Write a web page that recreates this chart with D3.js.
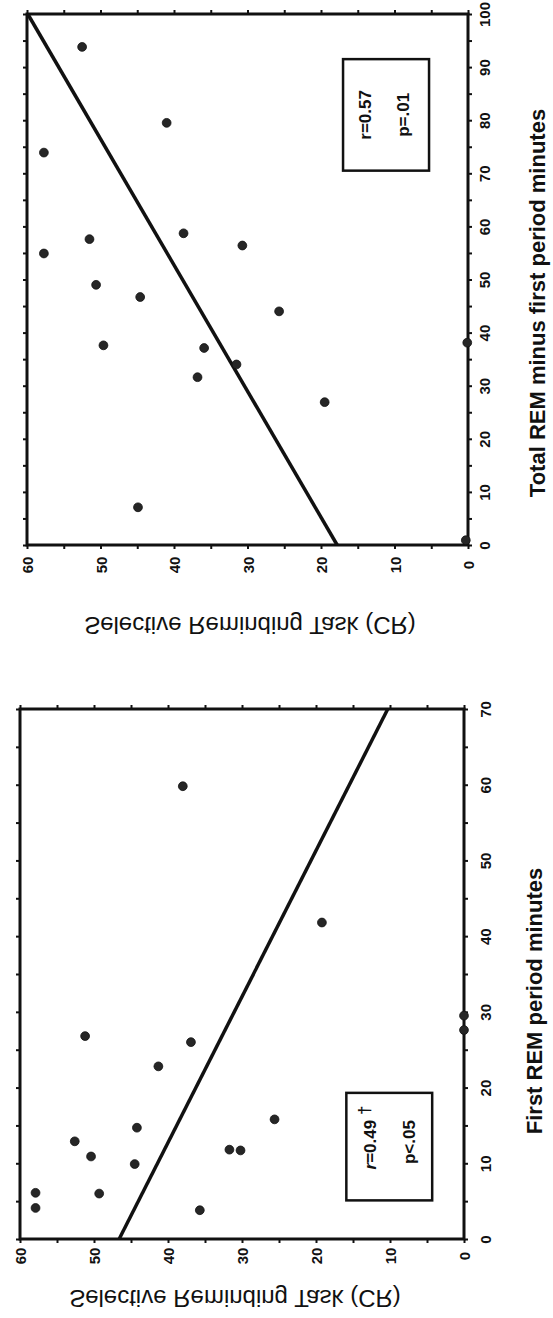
<!DOCTYPE html>
<html><head><meta charset="utf-8">
<script src="https://cdn.jsdelivr.net/npm/d3@7/dist/d3.min.js"></script>
<style>
body{margin:0;background:#fff;}
svg{display:block;font-family:"Liberation Sans",Arial,sans-serif;}
</style></head>
<body>
<script>
// ---- Data: top panel (Total REM minus first period minutes vs CR)
const topMinutes = [93.8,79.5,73.9,54.9,57.6,58.7,56.4,49.0,46.7,44.0,37.6,37.1,38.1,31.6,34.0,26.9,7.1,0.9];
const topCR      = [52.5,41.0,57.7,57.7,51.5,38.7,30.7,50.6,44.6,25.7,49.6,35.9,0.1,36.8,31.5,19.5,44.9,0.3];
const topFitMinutes = [0,100];
const topFitCR      = [17.8,59.9];
const topMinTicks = [0,10,20,30,40,50,60,70,80,90,100];

// ---- Data: bottom panel (First REM period minutes vs CR)
const botMinutes = [4.1,6.1,6.0,10.9,12.9,9.9,14.7,3.8,11.8,11.7,15.8,22.8,26.0,26.8,41.8,59.8,27.6,29.5];
const botCR      = [57.9,57.9,49.3,50.4,52.6,44.5,44.2,35.7,31.7,30.2,25.6,41.3,36.9,51.2,19.2,38.0,0,0];
const botFitMinutes = [0,70];
const botFitCR      = [46.6,10.3];
const botMinTicks = [0,10,20,30,40,50,60,70];

const crTicks = [0,10,20,30,40,50,60];

const svg = d3.select("body").append("svg").attr("width",553).attr("height",1318);
const INK = "#111";

function panel(cfg){
  const g = svg.append("g");
  const ym = d3.scaleLinear().domain([0,cfg.maxMin]).range([cfg.bottom,cfg.top]); // minutes -> page y
  const xc = d3.scaleLinear().domain([0,60]).range([cfg.right,cfg.left]);         // CR -> page x
  const minorMin = d3.range(0,cfg.maxMin+0.1,5);
  const minorCR = d3.range(0,60.1,5);

  const ax1 = g.append("g").attr("transform",`translate(${cfg.right},0)`)
    .call(d3.axisRight(ym).tickValues(minorMin).tickSize(4).tickFormat(d=> cfg.minTicks.includes(d)? d : ""));
  ax1.selectAll("text").attr("x",0).attr("y",0).attr("dy",null)
    .attr("transform",`translate(${cfg.minLabelX-cfg.right},0) rotate(-90)`)
    .attr("text-anchor","middle").attr("dominant-baseline","central");
  const ax2 = g.append("g").attr("transform",`translate(0,${cfg.bottom})`)
    .call(d3.axisBottom(xc).tickValues(minorCR).tickSize(4).tickFormat(d=> crTicks.includes(d)? d : ""));
  ax2.selectAll("text").attr("x",0).attr("y",0).attr("dy",null)
    .attr("transform",`translate(0,${cfg.crLabelY-cfg.bottom}) rotate(-90)`)
    .attr("text-anchor","middle").attr("dominant-baseline","central");
  const ax3 = g.append("g").attr("transform",`translate(${cfg.left},0)`)
    .call(d3.axisLeft(ym).tickValues(minorMin).tickSize(4).tickFormat(""));
  const ax4 = g.append("g").attr("transform",`translate(0,${cfg.top})`)
    .call(d3.axisTop(xc).tickValues(minorCR).tickSize(4).tickFormat(""));
  [ax1,ax2,ax3,ax4].forEach(a=>{
    a.select(".domain").remove();
    a.selectAll("line").attr("stroke",INK).attr("stroke-width",2);
    a.selectAll("text").attr("fill",INK).attr("font-size",15).attr("font-weight","bold")
      .attr("font-family",'"Liberation Sans",Arial,sans-serif');
  });

  g.append("rect").attr("x",xc(60)).attr("y",ym(cfg.maxMin))
    .attr("width",xc(0)-xc(60)).attr("height",ym(0)-ym(cfg.maxMin))
    .attr("fill","none").attr("stroke",INK).attr("stroke-width",3);

  const fit = cfg.fitMin.map((m,i)=>[m,cfg.fitCR[i]]);
  g.append("path").datum(fit)
    .attr("d",d3.line().x(d=>xc(d[1])).y(d=>ym(d[0])))
    .attr("stroke",INK).attr("stroke-width",3.5).attr("fill","none");

  const pts = cfg.mins.map((m,i)=>[m,cfg.crs[i]]);
  g.selectAll("circle.pt").data(pts).join("circle").attr("class","pt")
    .attr("cx",d=>xc(d[1])).attr("cy",d=>ym(d[0])).attr("r",4.4)
    .attr("fill","#262626").attr("stroke","#111").attr("stroke-width",0.8);

  const b = cfg.box;
  g.append("rect").attr("x",xc(b.cr[1])).attr("y",ym(b.min[1]))
    .attr("width",xc(b.cr[0])-xc(b.cr[1])).attr("height",ym(b.min[0])-ym(b.min[1]))
    .attr("fill","#fff").attr("stroke",INK).attr("stroke-width",2.5);
  b.lines.forEach(l=>{
    const t = g.append("text").attr("transform",`translate(${xc(l.cr)},${ym(l.min)}) rotate(-90)`)
      .attr("text-anchor","middle").attr("dominant-baseline","central")
      .attr("font-size",17).attr("font-weight","bold").attr("fill",INK);
    l.parts.forEach(p=>{
      const s = t.append("tspan").text(p.t);
      if(p.italic) s.attr("font-style","italic");
      if(p.sup) s.attr("baseline-shift","30%").attr("font-size",17);
    });
  });

  g.append("text").attr("transform",`translate(${cfg.xTitleX},${cfg.xTitleY}) rotate(-90)`)
    .attr("text-anchor","middle").attr("font-size",22).attr("font-weight","bold").attr("fill",INK)
    .text(cfg.xTitle);
  g.append("text").attr("transform",`translate(${cfg.yTitleX},${cfg.yTitleY}) scale(1,-1)`)
    .attr("text-anchor","middle").attr("font-size",24).attr("fill",INK)
    .text("Selective Reminding Task (CR)");
}

panel({
  maxMin:100, top:14, bottom:545, left:27, right:468,
  minTicks: topMinTicks, minLabelX:484, crLabelY:565,
  mins: topMinutes, crs: topCR, fitMin: topFitMinutes, fitCR: topFitCR,
  box:{cr:[5.3,17.0], min:[70.5,91.5], lines:[
    {cr:14.0, min:81, parts:[{t:"r=0.57"}]},
    {cr:8.9, min:81, parts:[{t:"p=.01"}]}
  ]},
  xTitle:"Total REM minus first period minutes", xTitleX:545, xTitleY:303,
  yTitleX:250, yTitleY:617
});

panel({
  maxMin:70, top:709, bottom:1239, left:20, right:464,
  minTicks: botMinTicks, minLabelX:485, crLabelY:1256,
  mins: botMinutes, crs: botCR, fitMin: botFitMinutes, fitCR: botFitCR,
  box:{cr:[4.3,15.9], min:[5.1,19.3], lines:[
    {cr:12.7, min:13.4, parts:[{t:"r",italic:true},{t:"=0.49 "},{t:"†",sup:true}]},
    {cr:7.4, min:12.8, parts:[{t:"p<.05"}]}
  ]},
  xTitle:"First REM period minutes", xTitleX:542, xTitleY:1001,
  yTitleX:235, yTitleY:1290
});
</script>
</body></html>
